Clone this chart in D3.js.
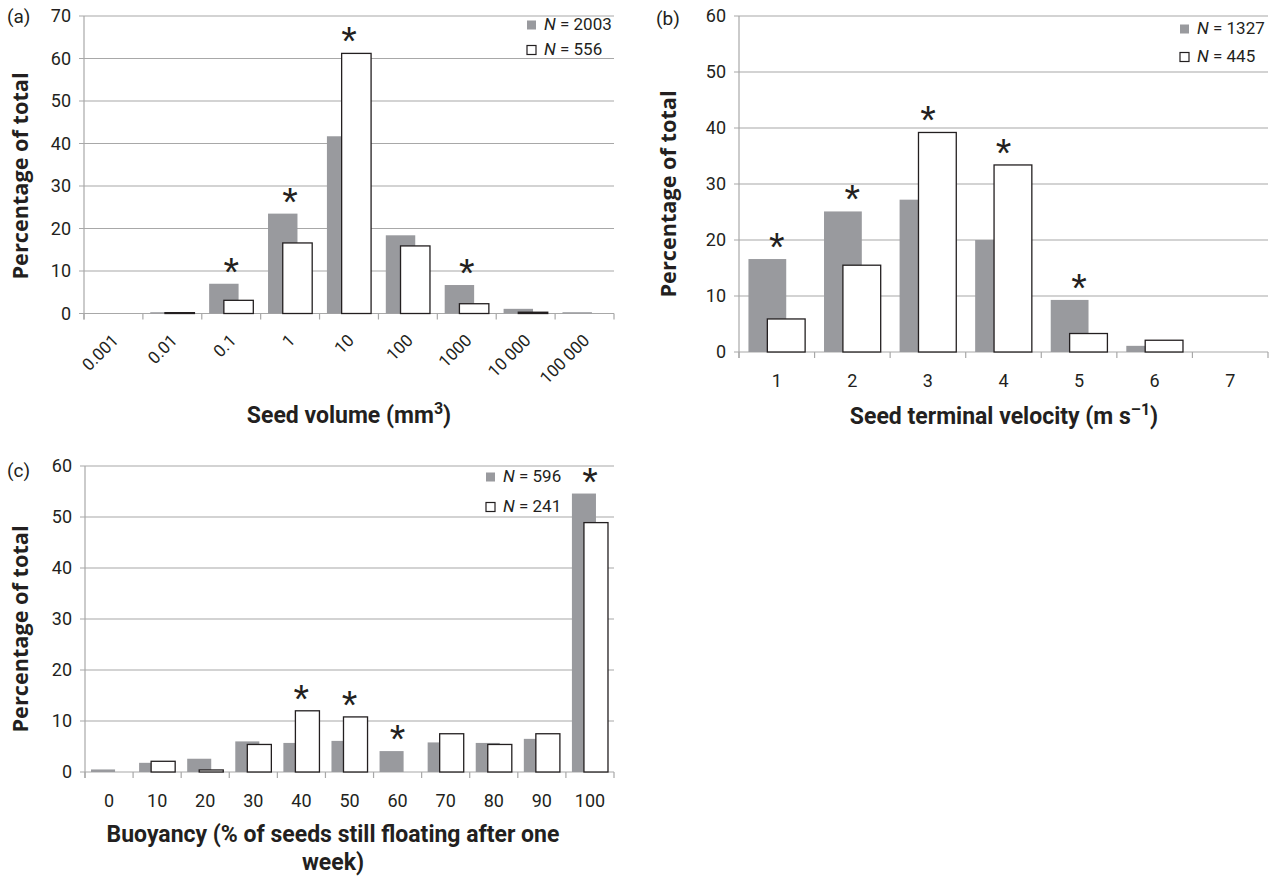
<!DOCTYPE html>
<html>
<head>
<meta charset="utf-8">
<script src="https://cdn.jsdelivr.net/npm/d3@7"></script>
<style>
  body { margin: 0; background: #fff; }
  svg { display: block; }
  .tick-label { font-family: Roboto, "Open Sans", sans-serif; fill: #231f20; }
  .title { font-family: Roboto, "Open Sans", sans-serif; font-weight: bold; fill: #231f20; }
  .ytitle { font-family: "Open Sans", sans-serif; font-weight: bold; fill: #231f20; }
</style>
</head>
<body>
<div id="container"></div>
<script>
// (a) seed volume
const volumeCats = ["0.001", "0.01", "0.1", "1", "10", "100", "1000", "10 000", "100 000"];
const volumeAll = [0, 0.3, 7.0, 23.5, 41.7, 18.4, 6.7, 1.1, 0.3];
const volumeSub = [0, 0.2, 3.1, 16.6, 61.2, 15.9, 2.3, 0.3, 0];
const volumeStars = ["0.1", "1", "10", "1000"];

// (b) terminal velocity
const velocityCats = ["1", "2", "3", "4", "5", "6", "7"];
const velocityAll = [16.6, 25.1, 27.2, 20.0, 9.3, 1.1, 0];
const velocitySub = [5.9, 15.5, 39.2, 33.4, 3.3, 2.1, 0];
const velocityStars = ["1", "2", "3", "4", "5"];

// (c) buoyancy
const buoyancyCats = ["0", "10", "20", "30", "40", "50", "60", "70", "80", "90", "100"];
const buoyancyAll = [0.5, 1.8, 2.6, 6.0, 5.7, 6.1, 4.1, 5.8, 5.7, 6.5, 54.6];
const buoyancySub = [0, 2.1, 0.4, 5.4, 12.0, 10.8, 0, 7.5, 5.4, 7.5, 48.9];
const buoyancyStars = ["40", "50", "60", "100"];

const greyFill = "#999a9e";
const gridColor = "#a8a8a8";

const svg = d3.select("#container").append("svg")
  .attr("width", 1271).attr("height", 877);

const drawPanel = (p) => {
  const g = svg.append("g");
  const x = d3.scaleBand().domain(p.cats).range([p.left, p.right]);
  const y = d3.scaleLinear().domain([0, p.yMax]).range([p.bottom, p.top]);
  const bw = x.bandwidth();

  // gridlines + y ticks
  const yTicks = d3.range(0, p.yMax + 1, 10);
  g.selectAll(".grid").data(yTicks).enter().append("line")
    .attr("x1", p.left - 5).attr("x2", p.right)
    .attr("y1", (d) => y(d)).attr("y2", (d) => y(d))
    .attr("stroke", gridColor).attr("stroke-width", 1.2);
  g.selectAll(".ylab").data(yTicks).enter().append("text")
    .attr("class", "tick-label")
    .attr("x", p.left - 13).attr("y", (d) => y(d)).attr("dy", "0.36em")
    .attr("text-anchor", "end").attr("font-size", 18)
    .text((d) => d);

  // y axis line
  g.append("line").attr("x1", p.left).attr("x2", p.left)
    .attr("y1", p.top).attr("y2", p.bottom + 6)
    .attr("stroke", gridColor).attr("stroke-width", 1.2);
  // x tick marks at category boundaries
  const bounds = p.cats.map((c) => x(c)).concat([p.right]);
  g.selectAll(".xtick").data(bounds).enter().append("line")
    .attr("x1", (d) => d).attr("x2", (d) => d)
    .attr("y1", p.bottom).attr("y2", p.bottom + 6)
    .attr("stroke", gridColor).attr("stroke-width", 1.2);

  // bars
  const rows = p.cats.map((c, i) => ({ cat: c, all: p.all[i], sub: p.sub[i] }));
  g.selectAll(".bar-all").data(rows.filter((d) => d.all > 0)).enter().append("rect")
    .attr("x", (d) => x(d.cat) + bw * 0.125)
    .attr("width", bw * 0.5)
    .attr("y", (d) => y(d.all))
    .attr("height", (d) => y(0) - y(d.all))
    .attr("fill", greyFill);
  g.selectAll(".bar-sub").data(rows.filter((d) => d.sub > 0)).enter().append("rect")
    .attr("x", (d) => x(d.cat) + bw * 0.375)
    .attr("width", bw * 0.5)
    .attr("y", (d) => y(d.sub))
    .attr("height", (d) => y(0) - y(d.sub))
    .attr("fill", "#fff").attr("stroke", "#231f20").attr("stroke-width", 1.3);

  // significance stars
  g.selectAll(".star").data(rows.filter((d) => p.stars.includes(d.cat))).enter().append("text")
    .attr("x", (d) => x(d.cat) + bw / 2)
    .attr("y", (d) => y(Math.max(d.all, d.sub)) + 2)
    .attr("text-anchor", "middle")
    .attr("font-family", "Liberation Sans, sans-serif")
    .attr("font-size", 40).attr("fill", "#231f20")
    .text("*");

  // x tick labels
  if (p.rotate) {
    g.selectAll(".xlab").data(p.cats).enter().append("text")
      .attr("class", "tick-label").attr("font-size", 17)
      .attr("text-anchor", "end")
      .attr("transform", (d) => `translate(${x(d) + bw / 2 + 6},${p.bottom + 28}) rotate(-45)`)
      .text((d) => d);
  } else {
    g.selectAll(".xlab").data(p.cats).enter().append("text")
      .attr("class", "tick-label").attr("font-size", 18)
      .attr("text-anchor", "middle")
      .attr("x", (d) => x(d) + bw / 2).attr("y", p.bottom + 35)
      .text((d) => d);
  }

  // x title
  const xt = g.append("text").attr("class", "title").attr("font-size", 23)
    .attr("text-anchor", "middle");
  p.xTitle.forEach((line, i) => {
    const ts = xt.append("tspan").attr("x", p.xTitleX).attr("y", p.xTitleY + i * 28);
    line.forEach((part) => {
      const s = ts.append("tspan").text(part.t);
      if (part.sup) s.attr("dy", -9).attr("font-size", 16);
      if (part.after) s.attr("dy", 9);
    });
  });

  // y title
  g.append("text").attr("class", "ytitle").attr("font-size", 21)
    .attr("text-anchor", "middle")
    .attr("textLength", 207).attr("lengthAdjust", "spacingAndGlyphs")
    .attr("transform", `translate(${p.yTitleX},${p.yTitleY}) rotate(-90)`)
    .text("Percentage of total");

  // panel label
  g.append("text").attr("class", "tick-label").attr("font-size", 19)
    .attr("x", p.labelX).attr("y", p.labelY).text(p.label);

  // legend
  const legend = g.append("g");
  p.legendN.forEach((n, i) => {
    const ly = p.legendY + i * p.legendGap;
    legend.append("rect")
      .attr("x", p.legendX).attr("y", ly - 9.5).attr("width", 9).attr("height", 9)
      .attr("fill", i === 0 ? greyFill : "#fff")
      .attr("stroke", i === 0 ? "none" : "#231f20").attr("stroke-width", 1.2);
    const t = legend.append("text").attr("class", "tick-label").attr("font-size", 17)
      .attr("x", p.legendX + 17).attr("y", ly);
    t.append("tspan").attr("font-style", "italic").text("N");
    t.append("tspan").text(" = " + n);
  });
};

drawPanel({
  cats: volumeCats, all: volumeAll, sub: volumeSub, stars: volumeStars,
  left: 84, right: 614, top: 16, bottom: 313.5, yMax: 70, rotate: true,
  xTitle: [[{ t: "Seed volume (mm" }, { t: "3", sup: true }, { t: ")", after: true }]],
  xTitleX: 349, xTitleY: 423, yTitleX: 28, yTitleY: 176,
  label: "(a)", labelX: 7, labelY: 23,
  legendN: ["2003", "556"], legendX: 527, legendY: 30, legendGap: 25,
});

drawPanel({
  cats: velocityCats, all: velocityAll, sub: velocitySub, stars: velocityStars,
  left: 739, right: 1268, top: 16, bottom: 352, yMax: 60, rotate: false,
  xTitle: [[{ t: "Seed terminal velocity (m s" }, { t: "–1", sup: true }, { t: ")", after: true }]],
  xTitleX: 1004, xTitleY: 424, yTitleX: 676, yTitleY: 194,
  label: "(b)", labelX: 656, labelY: 25,
  legendN: ["1327", "445"], legendX: 1180, legendY: 34, legendGap: 28,
});

drawPanel({
  cats: buoyancyCats, all: buoyancyAll, sub: buoyancySub, stars: buoyancyStars,
  left: 85, right: 614, top: 466, bottom: 772, yMax: 60, rotate: false,
  xTitle: [[{ t: "Buoyancy (% of seeds still floating after one" }], [{ t: "week)" }]],
  xTitleX: 333, xTitleY: 842, yTitleX: 28, yTitleY: 629,
  label: "(c)", labelX: 7, labelY: 477,
  legendN: ["596", "241"], legendX: 486, legendY: 482, legendGap: 30,
});
</script>
</body>
</html>
